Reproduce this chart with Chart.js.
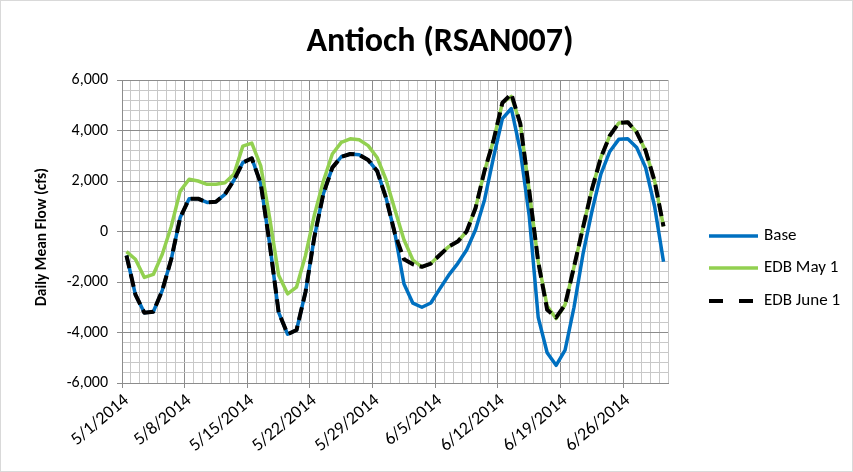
<!DOCTYPE html>
<html>
<head>
<meta charset="utf-8">
<script src="https://cdn.jsdelivr.net/npm/chart.js@4/dist/chart.umd.min.js"></script>
<style>
  html, body { margin: 0; padding: 0; background: #fff; }
  canvas { display: block; }
</style>
</head>
<body>
<canvas id="graphique-antioch" width="853" height="472"></canvas>
<script>
// Débits journaliers moyens à Antioch (RSAN007), mai-juin 2014
const dates = [
  "5/1/2014", "5/2/2014", "5/3/2014", "5/4/2014", "5/5/2014", "5/6/2014", "5/7/2014",
  "5/8/2014", "5/9/2014", "5/10/2014", "5/11/2014", "5/12/2014", "5/13/2014", "5/14/2014",
  "5/15/2014", "5/16/2014", "5/17/2014", "5/18/2014", "5/19/2014", "5/20/2014", "5/21/2014",
  "5/22/2014", "5/23/2014", "5/24/2014", "5/25/2014", "5/26/2014", "5/27/2014", "5/28/2014",
  "5/29/2014", "5/30/2014", "5/31/2014", "6/1/2014", "6/2/2014", "6/3/2014", "6/4/2014",
  "6/5/2014", "6/6/2014", "6/7/2014", "6/8/2014", "6/9/2014", "6/10/2014", "6/11/2014",
  "6/12/2014", "6/13/2014", "6/14/2014", "6/15/2014", "6/16/2014", "6/17/2014", "6/18/2014",
  "6/19/2014", "6/20/2014", "6/21/2014", "6/22/2014", "6/23/2014", "6/24/2014", "6/25/2014",
  "6/26/2014", "6/27/2014", "6/28/2014", "6/29/2014", "6/30/2014",
];

const base = [
  -950, -2500, -3220, -3180, -2330, -1100, 550, 1300, 1300, 1150,
  1180, 1470, 2030, 2730, 2900, 1900, -500, -3200, -4070, -3900,
  -2400, -200, 1500, 2530, 2960, 3070, 3040, 2830, 2400, 1330,
  -100, -2070, -2840, -3000, -2830, -2270, -1730, -1270, -730, 70,
  1250, 2930, 4470, 4870, 3200, 600, -3400, -4800, -5300, -4700,
  -3000, -900, 800, 2270, 3170, 3650, 3670, 3330, 2530, 1000,
  -1200,
];

const edbMai = [
  -800, -1100, -1820, -1700, -900, 200, 1600, 2070, 2000, 1870,
  1870, 1930, 2270, 3380, 3500, 2600, 530, -1730, -2470, -2200,
  -950, 670, 2000, 3070, 3530, 3670, 3630, 3400, 2930, 2050,
  850, -330, -1130, -1400, -1270, -930, -600, -400, 0, 930,
  2400, 3600, 5100, 5350, 4270, 1600, -1200, -2950, -3450, -2900,
  -1400, 150, 1670, 2930, 3800, 4300, 4330, 3930, 3200, 2000,
  200,
];

const edbJuin = [
  -950, -2500, -3220, -3180, -2330, -1100, 550, 1300, 1300, 1150,
  1180, 1470, 2030, 2730, 2900, 1900, -500, -3200, -4070, -3900,
  -2400, -200, 1500, 2530, 2960, 3070, 3040, 2830, 2400, 1330,
  -100, -1100, -1300, -1400, -1270, -930, -600, -400, 0, 930,
  2400, 3600, 5100, 5450, 4270, 1600, -1200, -3100, -3400, -2900,
  -1400, 150, 1670, 2930, 3800, 4300, 4330, 3930, 3200, 2000,
  200,
];

const police = "Carlito, Calibri, Lato, sans-serif";
const grilleMajeure = "#8c8c8c";
const grilleMineure = "#c8c8c8";

Chart.defaults.font.family = police;
Chart.defaults.color = "#000";

// Titre, titre de l'axe vertical, légende à droite et cadre du graphique
const decor = {
  id: "decor",
  beforeDraw(chart) {
    const ctx = chart.ctx;
    ctx.save();
    ctx.fillStyle = "#fff";
    ctx.fillRect(0, 0, chart.width, chart.height);
    ctx.restore();
  },
  afterDraw(chart) {
    const ctx = chart.ctx;
    ctx.save();
    ctx.strokeStyle = "#d9d9d9";
    ctx.lineWidth = 1;
    ctx.strokeRect(0.5, 0.5, chart.width - 1, chart.height - 1);

    ctx.fillStyle = "#000";
    ctx.font = "bold 34px " + police;
    ctx.textAlign = "center";
    ctx.textBaseline = "middle";
    ctx.fillText("Antioch (RSAN007)", 440, 42);

    ctx.save();
    ctx.translate(42, 237);
    ctx.rotate(-Math.PI / 2);
    ctx.font = "bold 15.5px " + police;
    ctx.fillText("Daily Mean Flow (cfs)", 0, 0);
    ctx.restore();

    const lignesY = [236, 268, 301];
    ctx.font = "17px " + police;
    ctx.textAlign = "left";
    chart.data.datasets.forEach(function (ds, i) {
      const y = lignesY[i];
      ctx.strokeStyle = ds.borderColor;
      ctx.lineWidth = ds.borderWidth;
      ctx.setLineDash(ds.borderDash ? [14, 16] : []);
      ctx.beginPath();
      ctx.moveTo(709, y);
      ctx.lineTo(ds.borderDash ? 754 : 758, y);
      ctx.stroke();
      ctx.setLineDash([]);
      ctx.fillStyle = "#000";
      ctx.fillText(ds.label, 764, y);
    });
    ctx.restore();
  },
};

const data = {
  labels: dates,
  datasets: [
    {
      label: "Base",
      data: base,
      borderColor: "#0070c0",
      borderWidth: 3.5,
      order: 2,
    },
    {
      label: "EDB May 1",
      data: edbMai,
      borderColor: "#92d050",
      borderWidth: 3.5,
      order: 1,
    },
    {
      label: "EDB June 1",
      data: edbJuin,
      borderColor: "#000",
      borderWidth: 4,
      borderDash: [13, 6],
      order: 0,
    },
  ],
};

const config = {
  type: "line",
  data: data,
  options: {
    responsive: false,
    animation: false,
    layout: { padding: { left: 0, right: 185, top: 80, bottom: 0 } },
    elements: {
      point: { radius: 0 },
      line: { tension: 0, borderJoinStyle: "round", borderCapStyle: "butt" },
    },
    plugins: {
      legend: { display: false },
      tooltip: { enabled: false },
    },
    scales: {
      x: {
        type: "category",
        offset: true,
        afterFit(scale) { scale.height = 89; },
        grid: {
          offset: true,
          color: (c) => (c.index % 7 === 0 ? grilleMajeure : grilleMineure),
          tickColor: (c) => (c.index % 7 === 0 ? grilleMajeure : "rgba(0,0,0,0)"),
          tickLength: 5,
        },
        border: { color: grilleMajeure },
        ticks: {
          autoSkip: false,
          minRotation: 40,
          maxRotation: 40,
          padding: 2,
          font: { size: 18 },
          callback: (v, i) => (i % 7 === 0 ? dates[i] : ""),
        },
      },
      y: {
        min: -6000,
        max: 6000,
        afterFit(scale) { scale.width = 122; },
        grid: {
          color: (c) => (c.tick && c.tick.value % 2000 === 0 ? grilleMajeure : grilleMineure),
          tickColor: (c) => (c.tick && c.tick.value % 2000 === 0 ? grilleMajeure : "rgba(0,0,0,0)"),
          tickLength: 5,
        },
        border: { color: grilleMajeure },
        ticks: {
          stepSize: 400,
          autoSkip: false,
          padding: 9,
          font: { size: 16 },
          callback: (v) => (v % 2000 === 0 ? v.toLocaleString("en-US") : ""),
        },
      },
    },
  },
  plugins: [decor],
};

new Chart(document.querySelector("#graphique-antioch"), config);
</script>
</body>
</html>
